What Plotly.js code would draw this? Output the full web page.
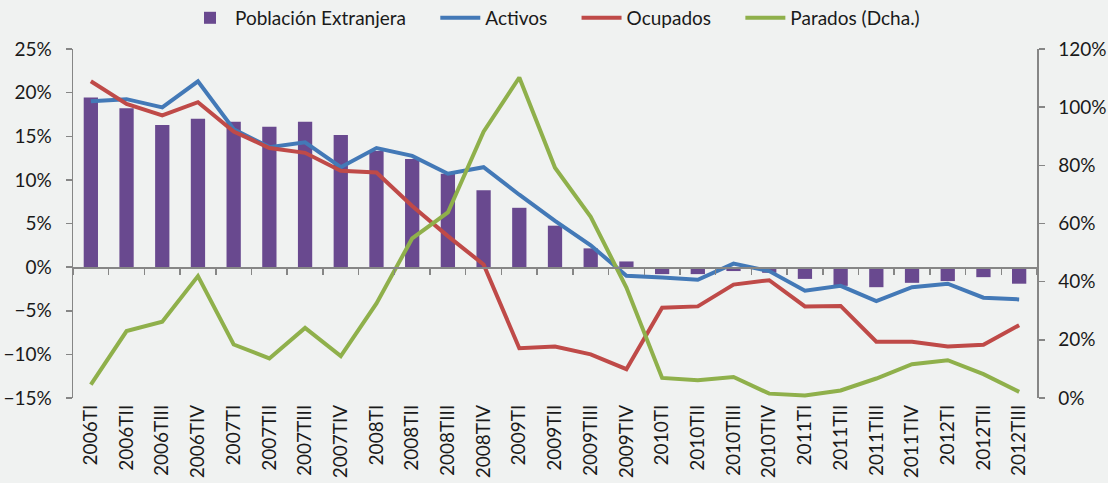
<!DOCTYPE html>
<html>
<head>
<meta charset="utf-8">
<script src="https://cdn.plot.ly/plotly-3.0.1.min.js"></script>
<style>html,body{margin:0;padding:0;background:#f0f2f1;}#chart{width:1108px;height:483px;}</style>
</head>
<body>
<div id="chart"></div>
<script>
var categorias = ['2006TI','2006TII','2006TIII','2006TIV','2007TI','2007TII','2007TIII','2007TIV','2008TI','2008TII','2008TIII','2008TIV','2009TI','2009TII','2009TIII','2009TIV','2010TI','2010TII','2010TIII','2010TIV','2011TI','2011TII','2011TIII','2011TIV','2012TI','2012TII','2012TIII'];
var poblacionExtranjera = [19.45,18.2,16.3,17.0,16.65,16.1,16.65,15.15,13.3,12.4,10.7,8.8,6.8,4.75,2.15,0.65,-0.8,-0.8,-0.45,-0.65,-1.35,-2.15,-2.3,-1.8,-1.6,-1.15,-1.9];
var activos = [19.0,19.25,18.3,21.3,15.8,13.75,14.3,11.45,13.65,12.75,10.7,11.45,8.3,5.3,2.5,-1.0,-1.2,-1.45,0.4,-0.45,-2.7,-2.15,-3.9,-2.3,-1.9,-3.5,-3.7];
var ocupados = [21.3,18.7,17.4,18.9,15.55,13.65,13.1,11.05,10.85,7.0,3.55,0.3,-9.3,-9.1,-10.0,-11.7,-4.65,-4.5,-2.0,-1.5,-4.5,-4.45,-8.55,-8.55,-9.1,-8.9,-6.65];
var parados = [4.6,23.0,26.2,41.9,18.4,13.6,24.1,14.4,32.5,54.9,63.8,91.6,110.2,79.2,62.3,38.0,6.9,6.1,7.2,1.5,0.9,2.6,6.7,11.6,13.0,8.2,2.1];
var nombres = ['Población Extranjera','Activos','Ocupados','Parados (Dcha.)'];

var FONT = 'Lato, "Open Sans", sans-serif';
var FS = 19;
var axisGray = '#868686';
var txt = '#1a1a1a';
var pad = '\u00a0\u00a0\u00a0\u00a0\u00a0';

var traces = [
  {type:'bar', name:nombres[0] + pad, x:categorias, y:poblacionExtranjera, xaxis:'x', yaxis:'y',
   marker:{color:'#69498f', line:{width:0}}, width:0.4},
  {type:'scatter', mode:'lines', name:nombres[1] + pad, x:categorias, y:activos, xaxis:'x', yaxis:'y',
   line:{color:'#4379b7', width:4}},
  {type:'scatter', mode:'lines', name:nombres[2] + pad, x:categorias, y:ocupados, xaxis:'x', yaxis:'y',
   line:{color:'#bf4a48', width:4}},
  {type:'scatter', mode:'lines', name:nombres[3], x:categorias, y:parados, xaxis:'x2', yaxis:'y2',
   line:{color:'#8fb04b', width:4}}
];

var layout = {
  width:1108, height:483,
  paper_bgcolor:'#f0f2f1', plot_bgcolor:'#f0f2f1',
  margin:{l:73, r:71, t:49, b:85, autoexpand:false},
  font:{family:FONT, size:FS, color:txt},
  showlegend:true,
  legend:{orientation:'h', x:0.5, xanchor:'center', y:1.089, yanchor:'middle', itemwidth:40,
          font:{family:FONT, size:FS, color:txt}, bgcolor:'rgba(0,0,0,0)', traceorder:'normal'},
  xaxis:{type:'category', range:[-0.5,26.5], showline:false, ticks:'', showgrid:false, zeroline:false,
         tickangle:-90, tickfont:{family:FONT, size:FS, color:txt}, anchor:'y', ticklabelstandoff:2},
  xaxis2:{type:'category', range:[-0.5,26.5], overlaying:'x', anchor:'free', position:0.375,
          showline:true, linecolor:axisGray, linewidth:1.5, ticks:'outside', tickson:'boundaries',
          ticklen:6, tickcolor:axisGray, tickwidth:1.5, showticklabels:false, showgrid:false, zeroline:false},
  yaxis:{range:[-15,25], dtick:5, ticksuffix:'%', showline:true, linecolor:axisGray, linewidth:1.5,
         ticks:'outside', ticklen:6, tickcolor:axisGray, tickwidth:1.5, showgrid:false, zeroline:false,
         tickfont:{family:FONT, size:FS, color:txt}, ticklabelstandoff:10},
  yaxis2:{range:[0,120], dtick:20, ticksuffix:'%', overlaying:'y', side:'right', anchor:'x2',
          showline:true, linecolor:axisGray, linewidth:1.5, ticks:'outside', ticklen:6, tickcolor:axisGray,
          tickwidth:1.5, showgrid:false, zeroline:false, tickfont:{family:FONT, size:FS, color:txt},
          ticklabelstandoff:10}
};

Plotly.newPlot('chart', traces, layout, {staticPlot:true, displayModeBar:false});
</script>
</body>
</html>
